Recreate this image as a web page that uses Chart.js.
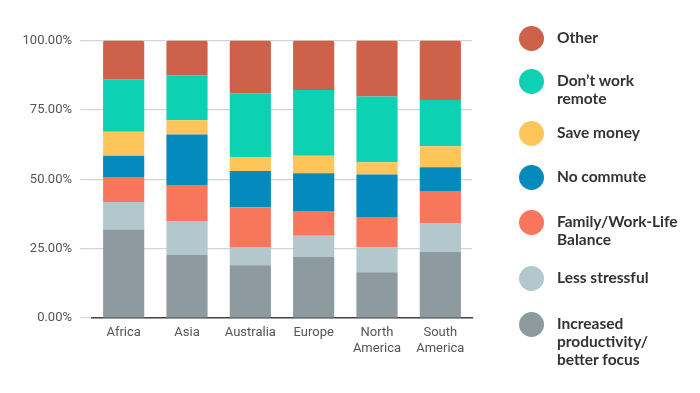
<!DOCTYPE html>
<html>
<head>
<meta charset="utf-8">
<script src="https://cdn.jsdelivr.net/npm/chart.js@4/dist/chart.umd.min.js"></script>
<style>
  html, body { margin: 0; padding: 0; background: #fff; }
  #wrap { position: relative; width: 700px; height: 393px; overflow: hidden; }
  #chartBox { position: absolute; left: 0; top: 0; width: 490px; height: 393px; }
  #legend { position: absolute; left: 0; top: 0; width: 700px; height: 393px; pointer-events: none; }
  .item { position: absolute; left: 519px; font-family: Lato, "Open Sans", sans-serif; font-weight: 700; font-size: 15.5px; color: #333; line-height: 18px; }
  .dot { position: absolute; left: 0; width: 25px; height: 25px; border-radius: 50%; }
  .txt { position: absolute; left: 38px; white-space: nowrap; }
</style>
</head>
<body>
<div id="wrap">
  <div id="chartBox"><canvas id="c" width="490" height="393"></canvas></div>
  <div id="legend"></div>
</div>
<script>
const categories = [["Africa"], ["Asia"], ["Australia"], ["Europe"], ["North", "America"], ["South", "America"]];
const seriesNames = ["Increased productivity/better focus", "Less stressful", "Family/Work-Life Balance", "No commute", "Save money", "Don’t work remote", "Other"];
const productivity = [31.9, 22.7, 19.0, 22.0, 16.5, 23.8];
const lessStressful = [9.9, 12.1, 6.6, 7.6, 9.0, 10.4];
const familyBalance = [9.0, 13.1, 14.3, 9.0, 10.9, 11.6];
const noCommute = [7.7, 18.2, 13.1, 13.6, 15.3, 8.5];
const saveMoney = [8.6, 5.2, 4.8, 6.3, 4.4, 7.6];
const dontWorkRemote = [18.9, 16.2, 23.2, 23.7, 23.7, 16.7];
const other = [14.0, 12.5, 19.0, 17.8, 20.2, 21.4];
const yTicks = [0, 25, 50, 75, 100];

const colors = ["#8d9ba0", "#b2c8cd", "#f8765c", "#048abc", "#fec559", "#0cd1b2", "#cd614a"];
const seriesData = [productivity, lessStressful, familyBalance, noCommute, saveMoney, dontWorkRemote, other];

const datasets = seriesData.map((d, i) => ({
  label: seriesNames[i],
  data: d,
  backgroundColor: colors[i],
  borderColor: colors[i],
  borderWidth: 0,
  borderRadius: i === 6 ? { topLeft: 2, topRight: 2 } : 0,
  borderSkipped: false,
  barPercentage: 0.65,
  categoryPercentage: 1.0
}));

new Chart(document.getElementById('c'), {
  type: 'bar',
  data: { labels: categories, datasets },
  options: {
    responsive: false,
    animation: false,
    layout: { padding: { top: 40.5, right: 18, left: 0, bottom: 0 } },
    plugins: { legend: { display: false }, tooltip: { enabled: false } },
    scales: {
      x: {
        stacked: true,
        grid: { display: false, drawTicks: false },
        border: { display: true, color: '#444', width: 1.5 },
        ticks: { color: '#555', font: { family: 'Roboto', size: 13 }, padding: 7, maxRotation: 0 },
        afterFit: (s) => { s.height = 75; }
      },
      y: {
        stacked: true,
        min: 0, max: 100,
        afterBuildTicks: (s) => { s.ticks = yTicks.map(v => ({ value: v })); },
        grid: { color: '#d4d4d4', lineWidth: 1.2, tickLength: 12 },
        border: { display: false },
        ticks: { color: '#555', font: { family: 'Roboto', size: 13 }, padding: 8, callback: (v) => v.toFixed(2) + '%' },
        afterFit: (s) => { s.width = 92; }
      }
    }
  }
});

const legendItems = [
  { name: ["Other"], color: "#cd614a", y: 38 },
  { name: ["Don’t work", "remote"], color: "#0cd1b2", y: 81 },
  { name: ["Save money"], color: "#fec559", y: 133 },
  { name: ["No commute"], color: "#048abc", y: 177 },
  { name: ["Family/Work-Life", "Balance"], color: "#f8765c", y: 222 },
  { name: ["Less stressful"], color: "#b2c8cd", y: 278 },
  { name: ["Increased", "productivity/", "better focus"], color: "#8d9ba0", y: 324 }
];
const lg = document.getElementById('legend');
legendItems.forEach(it => {
  const d = document.createElement('div');
  d.className = 'item';
  d.style.top = it.y + 'px';
  const dot = document.createElement('div');
  dot.className = 'dot';
  dot.style.background = it.color;
  dot.style.top = '-12.5px';
  d.appendChild(dot);
  const t = document.createElement('div');
  t.className = 'txt';
  t.style.top = '-10px';
  t.innerHTML = it.name.join('<br>');
  d.appendChild(t);
  lg.appendChild(d);
});
</script>
</body>
</html>
